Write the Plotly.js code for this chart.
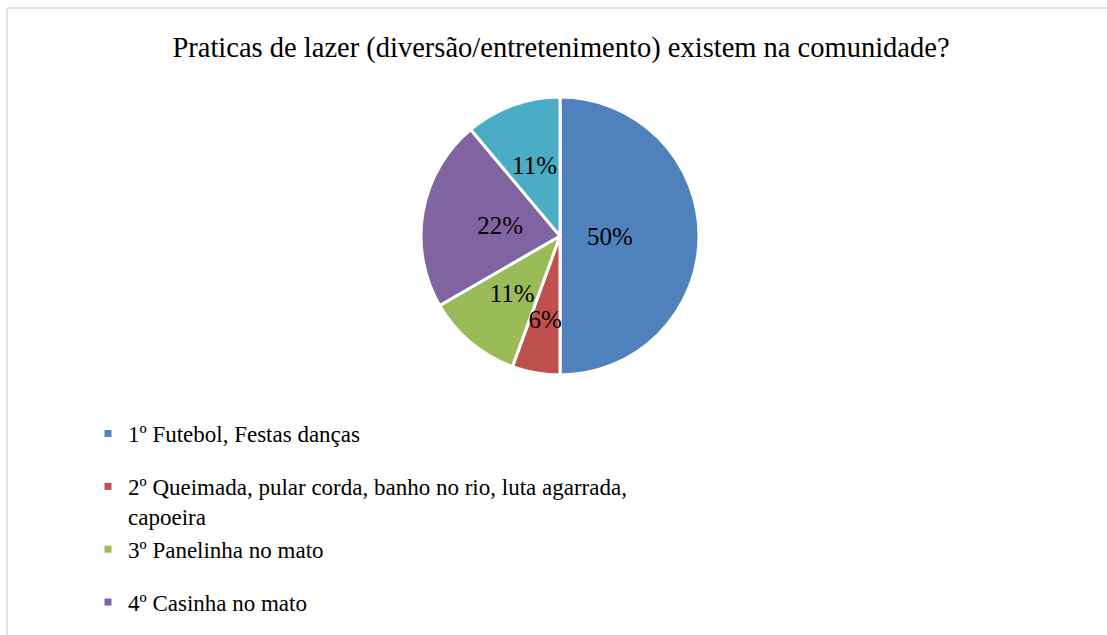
<!DOCTYPE html>
<html>
<head>
<meta charset="utf-8">
<script src="https://cdn.plot.ly/plotly-3.0.1.min.js"></script>
<style>html,body{margin:0;padding:0;background:#fff;overflow:hidden;}#chart{width:1107px;height:635px;}</style>
</head>
<body>
<div id="chart"></div>
<script>
// Data
const categories = [
  "1º Futebol, Festas danças",
  "2º Queimada, pular corda, banho no rio, luta agarrada,<br>capoeira",
  "3º Panelinha no mato",
  "4º Casinha no mato",
  "5º"
];
const counts = [9, 1, 2, 4, 2];
const colors = ["#4F81BD", "#C0504D", "#9BBB59", "#8064A2", "#4BACC6"];
const legendGroups = ["a", "b", "b", "c"];   // only the first four entries are visible in the reference
const titleText = "Praticas de lazer (diversão/entretenimento) existem na comunidade?";

const W = 1107, H = 635;
const font = "Times New Roman, Liberation Serif, serif";
const cx = 560, cy = 236, R = 139, Rlab = 100;

function dom(r) {
  return {x: [(cx - r) / W, (cx + r) / W], y: [1 - (cy + r) / H, 1 - (cy - r) / H]};
}

const traces = [{
  type: "pie",
  labels: categories,
  values: counts,
  sort: false,
  direction: "clockwise",
  rotation: 0,
  marker: {colors: colors, line: {color: "#ffffff", width: 3}},
  textinfo: "none",
  hoverinfo: "none",
  showlegend: false,
  domain: dom(R)
}, {
  // same data, inner transparent copy that carries the percentage labels
  type: "pie",
  labels: categories,
  values: counts,
  sort: false,
  direction: "clockwise",
  rotation: 0,
  marker: {colors: colors.map(() => "rgba(0,0,0,0)"), line: {width: 0}},
  texttemplate: "%{percent:.0%}",
  textposition: "inside",
  insidetextorientation: "horizontal",
  textfont: {family: font, size: 25, color: "#000000"},
  hoverinfo: "none",
  showlegend: false,
  domain: dom(Rlab)
}];

for (let i = 0; i < legendGroups.length; i++) {
  traces.push({
    type: "scatter", mode: "markers", x: [null], y: [null],
    name: categories[i],
    legendgroup: legendGroups[i],
    marker: {symbol: "square", size: 7, color: colors[i]},
    hoverinfo: "none", showlegend: true
  });
}

const layout = {
  width: W, height: H,
  margin: {l: 0, r: 0, t: 0, b: 0},
  paper_bgcolor: "#ffffff",
  plot_bgcolor: "#ffffff",
  title: {text: titleText, font: {family: font, size: 28.5, color: "#000000"},
          x: 561 / W, xanchor: "center", y: 1 - 47 / H, yanchor: "middle", xref: "paper", yref: "paper"},
  xaxis: {visible: false},
  yaxis: {visible: false},
  showlegend: true,
  legend: {
    x: 88 / W, xanchor: "left", y: 1 - 412 / H, yanchor: "top",
    font: {family: font, size: 23, color: "#000000"},
    valign: "top", bgcolor: "rgba(0,0,0,0)", itemclick: false,
    tracegroupgap: 20, traceorder: "grouped"
  },
  uniformtext: {mode: "show", minsize: 25},
  shapes: [
    {type: "line", xref: "paper", yref: "paper", x0: 7 / W, x1: 1, y0: 1 - 8 / H, y1: 1 - 8 / H, line: {color: "#d9d9d9", width: 1.5}},
    {type: "line", xref: "paper", yref: "paper", x0: 7 / W, x1: 7 / W, y0: 0, y1: 1 - 8 / H, line: {color: "#d9d9d9", width: 1.5}}
  ]
};

Plotly.newPlot("chart", traces, layout, {displayModeBar: false, staticPlot: true});
</script>
</body>
</html>
